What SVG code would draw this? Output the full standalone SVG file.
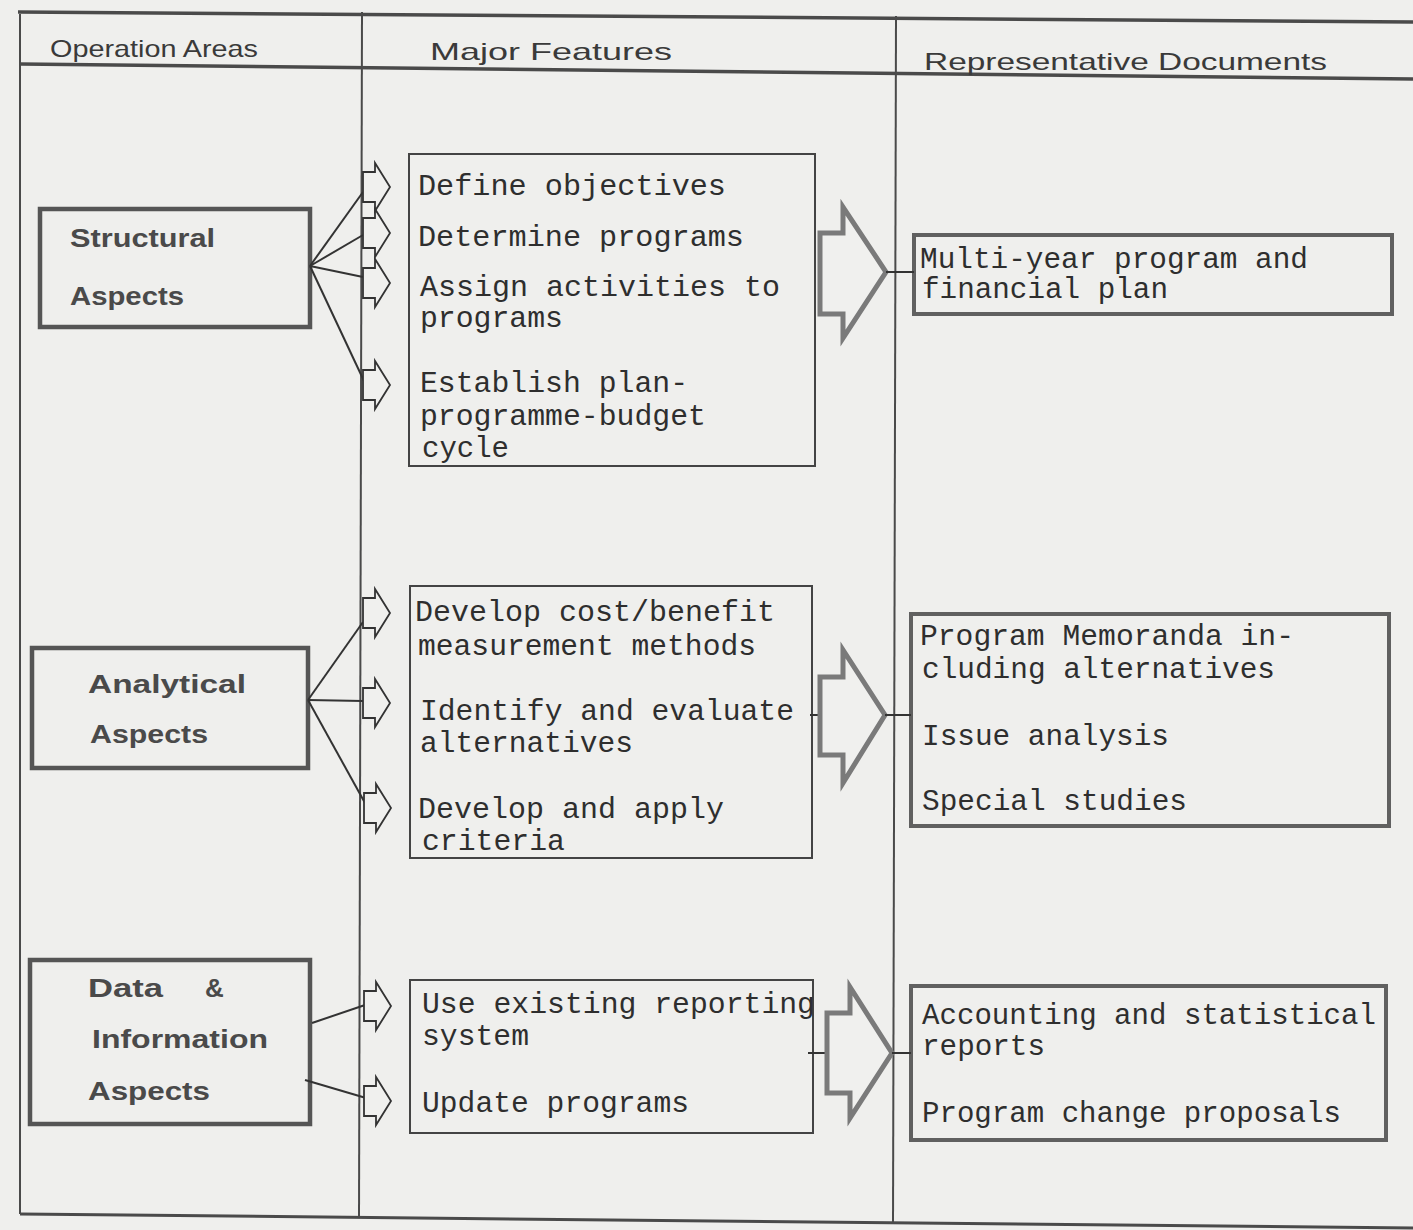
<svg xmlns="http://www.w3.org/2000/svg" width="1413" height="1230" viewBox="0 0 1413 1230">
<style>
.frame{stroke:#4a4a4a;fill:none}
.hdr{font-family:"Liberation Sans",Arial,sans-serif;font-size:24px;fill:#3a3a3a}
.area{fill:none;stroke:#555;stroke-width:4.5}
.lbl{font-family:"Liberation Sans",Arial,sans-serif;font-size:26px;font-weight:bold;fill:#4a4a4a}
.feat{fill:none;stroke:#444;stroke-width:2}
.doc{fill:none;stroke:#606060;stroke-width:4}
.tw{font-family:"Liberation Mono","Courier New",monospace;font-size:29px;fill:#2e2e2e}
.conn line{stroke:#333;stroke-width:2}
.small{fill:#f0f0ee;stroke:#333;stroke-width:1.8;stroke-linejoin:miter}
.big{fill:#f0f0ee;stroke:#7a7a7a;stroke-width:5;stroke-linejoin:miter}
</style>
<defs>
<polygon id="sa" points="0,-15 12,-15 12,-24 27,0 12,24 12,15 0,15"/>
</defs>
<rect width="1413" height="1230" fill="#efefed"/>
<g id="frame">
<line class="frame" x1="18" y1="12" x2="1413" y2="22" stroke-width="3.5"/>
<line class="frame" x1="20" y1="64" x2="1413" y2="79" stroke-width="3.5"/>
<line class="frame" x1="20" y1="1214" x2="1413" y2="1228" stroke-width="3"/>
<line class="frame" x1="20" y1="14" x2="20" y2="1214" stroke-width="2"/>
<line class="frame" x1="362" y1="12" x2="359" y2="1217" stroke-width="2"/>
<line class="frame" x1="896" y1="16" x2="893" y2="1224" stroke-width="2"/>
<text class="hdr" x="50" y="57" textLength="208" lengthAdjust="spacingAndGlyphs">Operation Areas</text>
<text class="hdr" x="430" y="60" textLength="242" lengthAdjust="spacingAndGlyphs">Major  Features</text>
<text class="hdr" x="924" y="70" textLength="403" lengthAdjust="spacingAndGlyphs">Representative  Documents</text>
</g>
<g id="structural">
<rect class="area" x="40" y="209" width="270" height="118"/>
<text class="lbl" x="70" y="247" textLength="145" lengthAdjust="spacingAndGlyphs">Structural</text>
<text class="lbl" x="70" y="305" textLength="114" lengthAdjust="spacingAndGlyphs">Aspects</text>
</g>
<g id="analytical">
<rect class="area" x="32" y="648" width="276" height="120"/>
<text class="lbl" x="88" y="693" textLength="158" lengthAdjust="spacingAndGlyphs">Analytical</text>
<text class="lbl" x="90" y="743" textLength="118" lengthAdjust="spacingAndGlyphs">Aspects</text>
</g>
<g id="data">
<rect class="area" x="30" y="960" width="280" height="164"/>
<text class="lbl" x="88" y="997" textLength="75" lengthAdjust="spacingAndGlyphs">Data</text>
<text class="lbl" x="205" y="997">&amp;</text>
<text class="lbl" x="92" y="1048" textLength="176" lengthAdjust="spacingAndGlyphs">Information</text>
<text class="lbl" x="88" y="1100" textLength="122" lengthAdjust="spacingAndGlyphs">Aspects</text>
</g>
<g id="features1">
<rect class="feat" x="409" y="154" width="406" height="312"/>
<text class="tw" x="418" y="195" textLength="308" lengthAdjust="spacingAndGlyphs">Define objectives</text>
<text class="tw" x="418" y="246" textLength="326" lengthAdjust="spacingAndGlyphs">Determine programs</text>
<text class="tw" x="420" y="296" textLength="360" lengthAdjust="spacingAndGlyphs">Assign activities to</text>
<text class="tw" x="420" y="327" textLength="143" lengthAdjust="spacingAndGlyphs">programs</text>
<text class="tw" x="420" y="392" textLength="268" lengthAdjust="spacingAndGlyphs">Establish plan-</text>
<text class="tw" x="420" y="425" textLength="286" lengthAdjust="spacingAndGlyphs">programme-budget</text>
<text class="tw" x="422" y="457" textLength="87" lengthAdjust="spacingAndGlyphs">cycle</text>
</g>
<g id="features2">
<rect class="feat" x="410" y="586" width="402" height="272"/>
<text class="tw" x="415" y="621" textLength="360" lengthAdjust="spacingAndGlyphs">Develop cost/benefit</text>
<text class="tw" x="418" y="655" textLength="338" lengthAdjust="spacingAndGlyphs">measurement methods</text>
<text class="tw" x="420" y="720" textLength="374" lengthAdjust="spacingAndGlyphs">Identify and evaluate</text>
<text class="tw" x="420" y="752" textLength="213" lengthAdjust="spacingAndGlyphs">alternatives</text>
<text class="tw" x="418" y="818" textLength="306" lengthAdjust="spacingAndGlyphs">Develop and apply</text>
<text class="tw" x="422" y="850" textLength="143" lengthAdjust="spacingAndGlyphs">criteria</text>
</g>
<g id="features3">
<rect class="feat" x="410" y="980" width="403" height="153"/>
<text class="tw" x="422" y="1013" textLength="393" lengthAdjust="spacingAndGlyphs">Use existing reporting</text>
<text class="tw" x="422" y="1045" textLength="107" lengthAdjust="spacingAndGlyphs">system</text>
<text class="tw" x="422" y="1112" textLength="267" lengthAdjust="spacingAndGlyphs">Update programs</text>
</g>
<g id="docs1">
<rect class="doc" x="914" y="235" width="478" height="79"/>
<text class="tw" x="920" y="268" textLength="388" lengthAdjust="spacingAndGlyphs">Multi-year program and</text>
<text class="tw" x="922" y="298" textLength="246" lengthAdjust="spacingAndGlyphs">financial plan</text>
</g>
<g id="docs2">
<rect class="doc" x="911" y="614" width="478" height="212"/>
<text class="tw" x="920" y="645" textLength="374" lengthAdjust="spacingAndGlyphs">Program Memoranda in-</text>
<text class="tw" x="922" y="678" textLength="353" lengthAdjust="spacingAndGlyphs">cluding alternatives</text>
<text class="tw" x="922" y="745" textLength="247" lengthAdjust="spacingAndGlyphs">Issue analysis</text>
<text class="tw" x="922" y="810" textLength="265" lengthAdjust="spacingAndGlyphs">Special studies</text>
</g>
<g id="docs3">
<rect class="doc" x="911" y="986" width="475" height="154"/>
<text class="tw" x="922" y="1024" textLength="454" lengthAdjust="spacingAndGlyphs">Accounting and statistical</text>
<text class="tw" x="922" y="1055" textLength="123" lengthAdjust="spacingAndGlyphs">reports</text>
<text class="tw" x="922" y="1122" textLength="419" lengthAdjust="spacingAndGlyphs">Program change proposals</text>
</g>
<g id="connectors" class="conn">
<line x1="310" y1="266" x2="363" y2="192"/>
<line x1="310" y1="266" x2="363" y2="235"/>
<line x1="310" y1="266" x2="363" y2="277"/>
<line x1="310" y1="266" x2="364" y2="381"/>
<line x1="308" y1="700" x2="363" y2="622"/>
<line x1="308" y1="700" x2="363" y2="701"/>
<line x1="308" y1="700" x2="365" y2="803"/>
<line x1="312" y1="1023" x2="365" y2="1005"/>
<line x1="305" y1="1080" x2="366" y2="1098"/>
<use href="#sa" class="small" x="363" y="187"/>
<use href="#sa" class="small" x="363" y="233"/>
<use href="#sa" class="small" x="363" y="283"/>
<use href="#sa" class="small" x="363" y="385"/>
<use href="#sa" class="small" x="363" y="613"/>
<use href="#sa" class="small" x="363" y="703"/>
<use href="#sa" class="small" x="364" y="808"/>
<use href="#sa" class="small" x="364" y="1006"/>
<use href="#sa" class="small" x="364" y="1101"/>
<polygon class="big" points="820,233 843,233 843,207 886,272 843,338 843,314 820,314"/>
<line x1="886" y1="272" x2="914" y2="272"/>
<line x1="810" y1="715" x2="820" y2="715"/>
<polygon class="big" points="820,677 843,677 843,650 885,715 843,783 843,755 820,755"/>
<line x1="885" y1="715" x2="911" y2="715"/>
<line x1="808" y1="1053" x2="827" y2="1053"/>
<polygon class="big" points="827,1013 850,1013 850,987 892,1053 850,1118 850,1093 827,1093"/>
<line x1="892" y1="1053" x2="911" y2="1053"/>
</g>
</svg>
